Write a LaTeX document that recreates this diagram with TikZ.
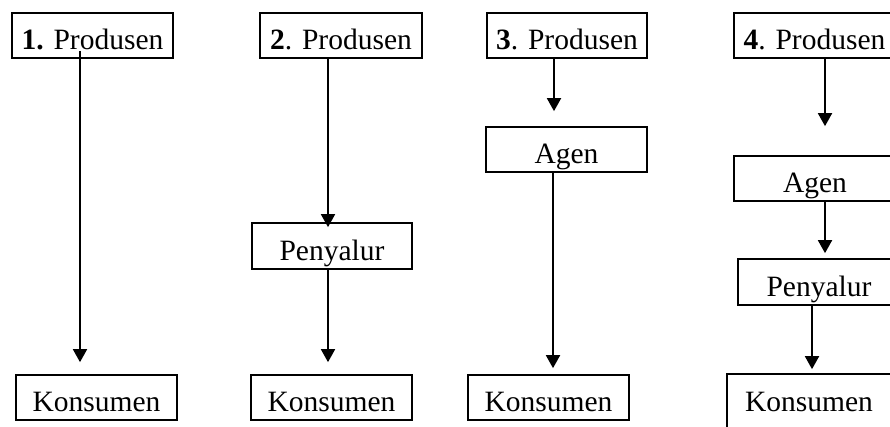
\documentclass[tikz,border=0pt]{standalone}
\usepackage{fontspec}
\setmainfont{Liberation Serif}
\usetikzlibrary{arrows.meta}
\begin{document}
\begin{tikzpicture}[x=1pt,y=-1pt,
  box/.style={draw, line width=1.7pt, inner sep=0pt, minimum width=161pt,
    minimum height=45pt, text height=30pt, text depth=2pt,
    font=\fontsize{29.5}{34}\selectfont},
  link/.style={line width=1.8pt, -{Triangle[length=13pt,width=14pt]}},
  plain/.style={line width=1.7pt}]
\useasboundingbox (0,0) rectangle (890,426);
\clip (0,0) rectangle (890,426);

% column 1
\node[box] (p1) at (92.5,35.5) {\textbf{1.} Produsen};
\node[box] (k1) at (96.5,397.5) {Konsumen};

% column 2
\node[box, minimum width=162pt] (p2) at (341,35.5) {\textbf{2}. Produsen};
\node[box, minimum width=160pt, minimum height=46pt] (s2) at (332,246) {Penyalur};
\node[box] (k2) at (331.5,397.5) {Konsumen};

% column 3
\node[box, minimum width=160pt] (p3) at (567,35.5) {\textbf{3}. Produsen};
\node[box] (a3) at (566.5,149.5) {Agen};
\node[box] (k3) at (548.5,397.5) {Konsumen};

% column 4
\node[box] (p4) at (814.5,35.5) {\textbf{4}. Produsen};
\node[box, minimum width=162pt] (a4) at (815,178.5) {Agen};
\node[box, minimum width=162pt, minimum height=46pt] (s4) at (819,282) {Penyalur};
\node[box, draw=none, minimum width=162pt] (k4) at (809,397.5) {Konsumen};
\draw[plain] ([yshift=-12pt]k4.south west) -- (k4.north west) -- (k4.north east)
  -- ([yshift=-12pt]k4.south east);

% x positions of the vertical connectors
\coordinate (x1) at (80,0);
\coordinate (x2) at (328,0);
\coordinate (x3) at (554,0);
\coordinate (x3b) at (553,0);
\coordinate (x4) at (825,0);
\coordinate (x4b) at (812,0);

\draw[link, shorten <=-8pt, shorten >=12pt] (p1.south -| x1) -- (k1.north -| x1);

\draw[link, shorten >=-5pt] (p2.south -| x2) -- (s2.north -| x2);
\draw[link, shorten >=12pt] (s2.south -| x2) -- (k2.north -| x2);

\draw[link, shorten >=15pt] (p3.south -| x3) -- (a3.north -| x3);
\draw[link, shorten >=6pt] (a3.south -| x3b) -- (k3.north -| x3b);

\draw[link, shorten >=29pt] (p4.south -| x4) -- (a4.north -| x4);
\draw[link, shorten >=5pt] (a4.south -| x4) -- (s4.north -| x4);
\draw[link, shorten >=5pt] (s4.south -| x4b) -- (k4.north -| x4b);
\end{tikzpicture}
\end{document}
